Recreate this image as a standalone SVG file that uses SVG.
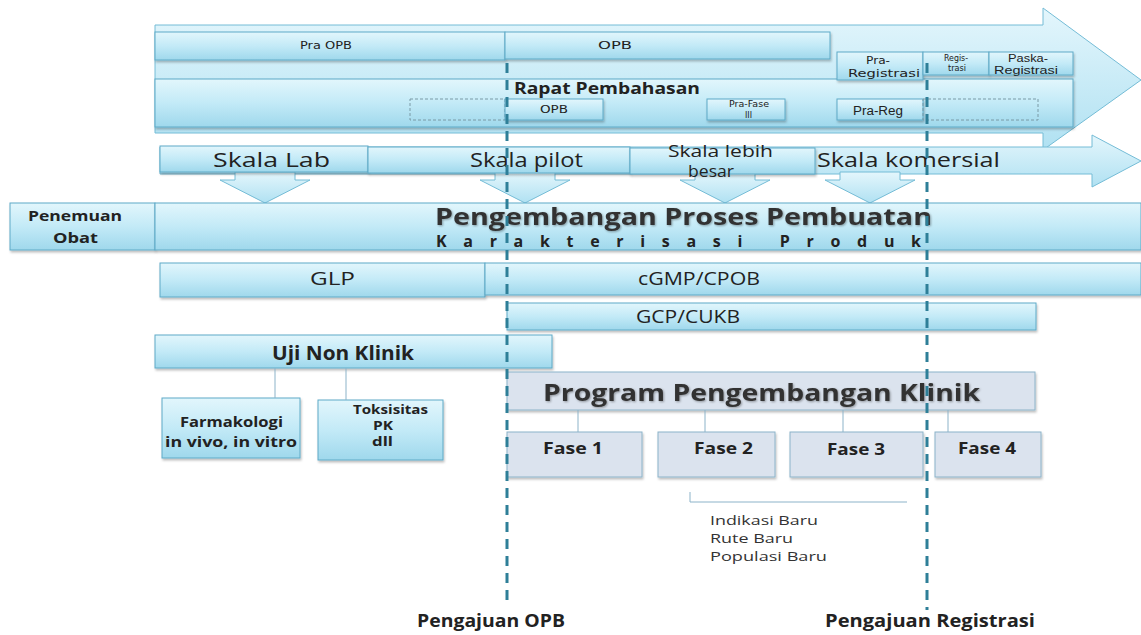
<svg xmlns="http://www.w3.org/2000/svg" width="1141" height="635" viewBox="0 0 1141 635">
<defs>
<linearGradient id="g" x1="0" y1="0" x2="0" y2="1">
<stop offset="0" stop-color="#e2f6fc"/><stop offset="0.5" stop-color="#c3eaf7"/><stop offset="1" stop-color="#9fd8ec"/>
</linearGradient>
<linearGradient id="ga" x1="0" y1="0" x2="0" y2="1">
<stop offset="0" stop-color="#e4f6fc"/><stop offset="1" stop-color="#b0e1f2"/>
</linearGradient>
<filter id="sh" x="-5%" y="-20%" width="110%" height="150%">
<feDropShadow dx="1" dy="2" stdDeviation="1" flood-color="#000" flood-opacity="0.25"/>
</filter>
<filter id="ts" x="-5%" y="-20%" width="110%" height="150%">
<feDropShadow dx="1" dy="1" stdDeviation="0.8" flood-color="#000" flood-opacity="0.35"/>
</filter>
</defs>
<style>
.b{fill:url(#g);stroke:#5eaac7;stroke-width:1;filter:url(#sh)}
.arr{fill:url(#ga);stroke:#74bcd6;stroke-width:1}
.dsh{fill:none;stroke:#7a9aa6;stroke-width:1;stroke-dasharray:3 2}
.gy{fill:#dbe3ee;stroke:#8cb3c9;stroke-width:1;filter:url(#sh)}
.cl{fill:none;stroke:#8cb3c9;stroke-width:1}
text{fill:#222}
.t{font-family:"DejaVu Sans",sans-serif}
.s{font-family:"Liberation Sans",sans-serif}
.c{font-family:"Open Sans",Lato,sans-serif}
.cb{font-family:"Open Sans",Lato,sans-serif;font-weight:bold}
.vl{stroke:#2e7f98;stroke-width:3;stroke-dasharray:10 7;fill:none}
</style>

<g id="timeline-arrow">
<polygon class="arr" points="155,25 1043,25 1043,8 1141,80 1043,150 1043,133 155,133"/>
</g>
<g id="pra-opb"><rect class="b" x="155" y="32" width="350" height="28"/><text class="t" x="300" y="49" font-size="11" textLength="52" lengthAdjust="spacingAndGlyphs">Pra OPB</text></g>
<g id="opb"><rect class="b" x="505" y="32" width="325" height="27"/><text class="t" x="598" y="49" font-size="11" textLength="34" lengthAdjust="spacingAndGlyphs">OPB</text></g>
<g id="rapat"><rect class="b" x="155" y="79" width="918" height="48"/><text class="cb" x="514" y="94" font-size="16" textLength="186" lengthAdjust="spacingAndGlyphs">Rapat Pembahasan</text></g>
<g id="pra-registrasi"><rect class="b" x="837" y="52" width="86" height="28"/><text class="t" x="866" y="64" font-size="10" textLength="24" lengthAdjust="spacingAndGlyphs">Pra-</text><text class="t" x="848" y="77" font-size="10" textLength="72" lengthAdjust="spacingAndGlyphs">Registrasi</text></g>
<g id="registrasi"><rect class="b" x="923" y="52" width="66" height="23"/><text class="t" x="944" y="61" font-size="8" textLength="24" lengthAdjust="spacingAndGlyphs">Regis-</text><text class="t" x="948" y="71" font-size="8" textLength="18" lengthAdjust="spacingAndGlyphs">trasi</text></g>
<g id="paska"><rect class="b" x="989" y="52" width="84" height="23"/><text class="s" x="1008" y="62" font-size="11" textLength="40" lengthAdjust="spacingAndGlyphs">Paska-</text><text class="s" x="994" y="74" font-size="11" textLength="64" lengthAdjust="spacingAndGlyphs">Registrasi</text></g>
<g id="rp-dash1"><rect class="dsh" x="410" y="99" width="95" height="21"/></g>
<g id="rp-opb"><rect class="b" x="505" y="99" width="98" height="21"/><text class="t" x="540" y="113" font-size="10" textLength="28" lengthAdjust="spacingAndGlyphs">OPB</text></g>
<g id="rp-prafase"><rect class="b" x="707" y="99" width="78" height="21"/><text class="t" x="729" y="107" font-size="8" textLength="40" lengthAdjust="spacingAndGlyphs">Pra-Fase</text><text class="t" x="745" y="118" font-size="8" textLength="7" lengthAdjust="spacingAndGlyphs">III</text></g>
<g id="rp-prareg"><rect class="b" x="837" y="99" width="86" height="21"/><text class="s" x="853" y="115" font-size="12" textLength="50" lengthAdjust="spacingAndGlyphs">Pra-Reg</text></g>
<g id="rp-dash2"><rect class="dsh" x="923" y="99" width="115" height="21"/></g>

<g id="skala-arrow">
<polygon class="arr" points="160,147 1092,147 1092,135 1141,161 1092,187 1092,174 160,174"/>
</g>
<g id="down-arrows">
<polygon class="arr" points="235,172 295,172 295,180 310,180 265,203 220,180 235,180"/>
<polygon class="arr" points="495,172 555,172 555,180 570,180 525,203 480,180 495,180"/>
<polygon class="arr" points="695,172 755,172 755,180 770,180 725,203 680,180 695,180"/>
<polygon class="arr" points="840,172 900,172 900,180 915,180 870,203 825,180 840,180"/>
</g>
<g id="skala-lab"><rect class="b" x="160" y="146" width="208" height="26"/><text class="c" x="213" y="167" font-size="20" textLength="117" lengthAdjust="spacingAndGlyphs">Skala Lab</text></g>
<g id="skala-pilot"><rect class="b" x="368" y="147" width="262" height="26"/><text class="c" x="470" y="167" font-size="20" textLength="113" lengthAdjust="spacingAndGlyphs">Skala pilot</text></g>
<g id="skala-besar"><rect class="b" x="630" y="148" width="185" height="26"/><text class="c" x="668" y="157" font-size="16" textLength="105" lengthAdjust="spacingAndGlyphs">Skala lebih</text><text class="c" x="688" y="177" font-size="16" textLength="46" lengthAdjust="spacingAndGlyphs">besar</text></g>
<text class="c" x="817" y="167" font-size="20" textLength="183" lengthAdjust="spacingAndGlyphs">Skala komersial</text>

<g id="penemuan"><rect class="b" x="10" y="203" width="145" height="47"/><text class="cb" x="28" y="221" font-size="14" textLength="94" lengthAdjust="spacingAndGlyphs">Penemuan</text><text class="cb" x="53" y="243" font-size="14" textLength="45" lengthAdjust="spacingAndGlyphs">Obat</text></g>
<g id="pengembangan"><rect class="b" x="155" y="203" width="986" height="47"/>
<text class="cb" x="435" y="225" font-size="24" style="fill:#333;filter:url(#ts)" textLength="497" lengthAdjust="spacingAndGlyphs">Pengembangan Proses Pembuatan</text>
<text class="cb" x="436" y="247" font-size="16" letter-spacing="14" textLength="499" lengthAdjust="spacing">Karakterisasi  Produk</text></g>

<g id="glp"><rect class="b" x="160" y="263" width="325" height="34"/><text class="c" x="310" y="285" font-size="18" textLength="45" lengthAdjust="spacingAndGlyphs">GLP</text></g>
<g id="cgmp"><rect class="b" x="485" y="263" width="656" height="32"/><text class="c" x="638" y="285" font-size="18" textLength="122" lengthAdjust="spacingAndGlyphs">cGMP/CPOB</text></g>
<g id="gcp"><rect class="b" x="507" y="303" width="529" height="27"/><text class="c" x="636" y="323" font-size="18" textLength="104" lengthAdjust="spacingAndGlyphs">GCP/CUKB</text></g>

<g id="uji"><rect class="b" x="155" y="335" width="397" height="33"/><text class="cb" x="272" y="360" font-size="19" textLength="142" lengthAdjust="spacingAndGlyphs">Uji Non Klinik</text></g>
<g id="farmakologi"><rect class="b" x="162" y="398" width="138" height="60"/><text class="cb" x="180" y="427" font-size="14" textLength="103" lengthAdjust="spacingAndGlyphs">Farmakologi</text><text class="cb" x="165" y="447" font-size="14" textLength="132" lengthAdjust="spacingAndGlyphs">in vivo, in vitro</text></g>
<g id="toksisitas"><rect class="b" x="318" y="400" width="125" height="60"/><text class="cb" x="353" y="414" font-size="12" textLength="75" lengthAdjust="spacingAndGlyphs">Toksisitas</text><text class="cb" x="373" y="430" font-size="12" textLength="20" lengthAdjust="spacingAndGlyphs">PK</text><text class="cb" x="372" y="446" font-size="12" textLength="21" lengthAdjust="spacingAndGlyphs">dll</text></g>

<g id="program"><rect class="gy" x="507" y="372" width="528" height="38"/><text class="cb" x="543" y="401" font-size="24" style="fill:#333;filter:url(#ts)" textLength="437" lengthAdjust="spacingAndGlyphs">Program Pengembangan Klinik</text></g>
<g id="fase1"><rect class="gy" x="507" y="432" width="135" height="45"/><text class="cb" x="543" y="454" font-size="16" textLength="60" lengthAdjust="spacingAndGlyphs">Fase 1</text></g>
<g id="fase2"><rect class="gy" x="658" y="432" width="117" height="45"/><text class="cb" x="694" y="454" font-size="16" textLength="59" lengthAdjust="spacingAndGlyphs">Fase 2</text></g>
<g id="fase3"><rect class="gy" x="790" y="432" width="133" height="45"/><text class="cb" x="827" y="455" font-size="16" textLength="58" lengthAdjust="spacingAndGlyphs">Fase 3</text></g>
<g id="fase4"><rect class="gy" x="935" y="432" width="106" height="45"/><text class="cb" x="958" y="454" font-size="16" textLength="58" lengthAdjust="spacingAndGlyphs">Fase 4</text></g>

<g id="connectors">
<line class="cl" x1="275" y1="368" x2="275" y2="398"/>
<line class="cl" x1="346" y1="368" x2="346" y2="400"/>
<line class="cl" x1="578" y1="410" x2="578" y2="432"/>
<line class="cl" x1="705" y1="410" x2="705" y2="432"/>
<line class="cl" x1="843" y1="410" x2="843" y2="432"/>
<line class="cl" x1="948" y1="410" x2="948" y2="432"/>
<polyline class="cl" points="690,492 690,502 907,502"/>
</g>
<g id="note" class="c" font-size="13">
<text x="710" y="525" textLength="108" lengthAdjust="spacingAndGlyphs" style="fill:#333">Indikasi Baru</text>
<text x="710" y="543" textLength="83" lengthAdjust="spacingAndGlyphs" style="fill:#333">Rute Baru</text>
<text x="710" y="561" textLength="117" lengthAdjust="spacingAndGlyphs" style="fill:#333">Populasi Baru</text>
</g>
<g id="milestones">
<line class="vl" x1="507" y1="63" x2="507" y2="602"/>
<line class="vl" x1="927" y1="63" x2="927" y2="610"/>
<text class="cb" x="417" y="627" font-size="17" textLength="148" lengthAdjust="spacingAndGlyphs">Pengajuan OPB</text>
<text class="cb" x="825" y="627" font-size="17" textLength="210" lengthAdjust="spacingAndGlyphs">Pengajuan Registrasi</text>
</g>
</svg>
